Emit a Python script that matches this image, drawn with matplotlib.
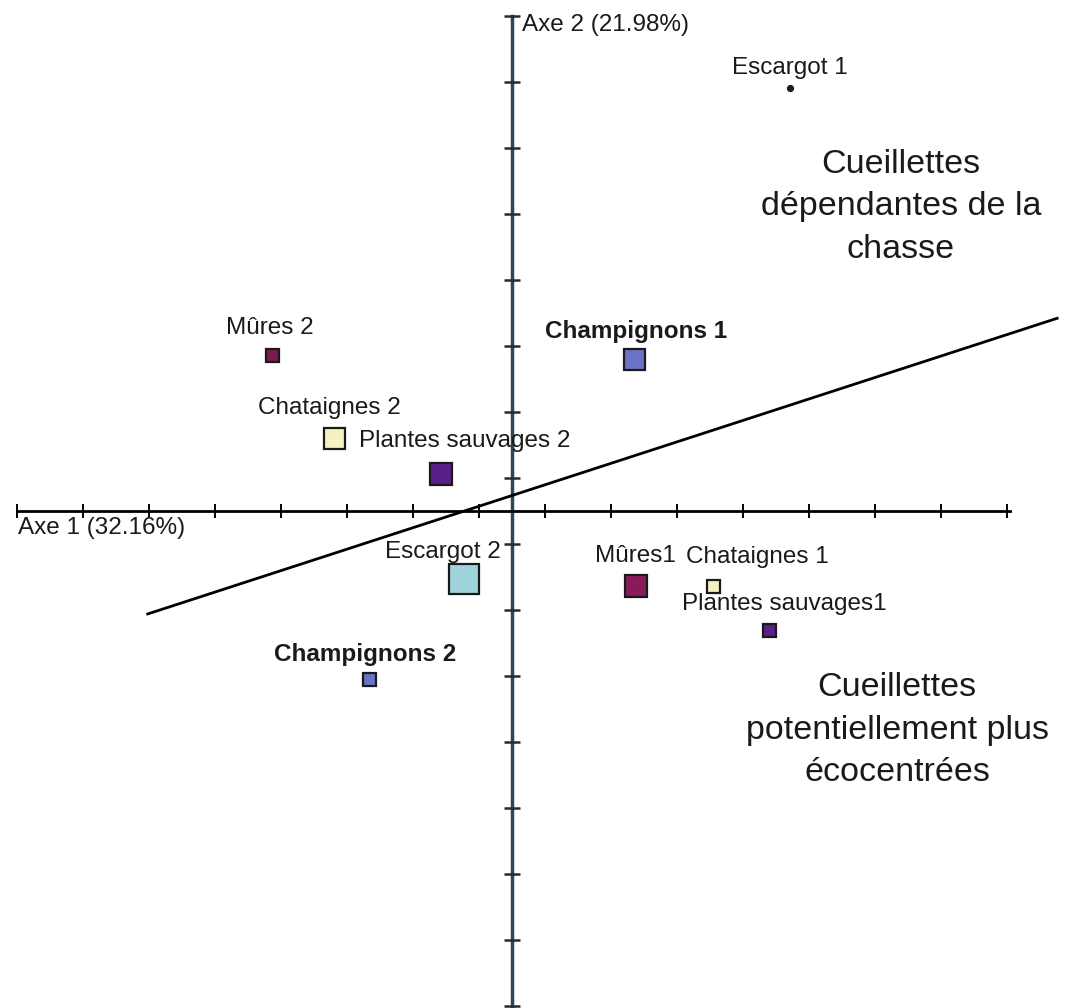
import numpy as np
import matplotlib
matplotlib.use('Agg')
import matplotlib.pyplot as plt

plt.rcParams['font.family'] = ['Liberation Sans', 'DejaVu Sans']

# coordinates on the two factorial axes (tick units)
labels = ['Escargot 1', 'Mûres 2', 'Champignons 1', 'Chataignes 2', 'Plantes sauvages 2',
          'Escargot 2', 'Mûres1', 'Chataignes 1', 'Plantes sauvages1', 'Champignons 2']
axe1 = [4.21, -3.64, 1.85, -2.70, -1.08, -0.73, 1.88, 3.05, 3.89, -2.17]
axe2 = [6.41, 2.36, 2.30, 1.11, 0.56, -1.03, -1.14, -1.14, -1.80, -2.55]
weight = [5, 13, 21, 21, 22, 30, 22, 13, 13, 13]   # marker side in px
bold = [False, False, True, False, False, False, False, False, False, True]

colors = ['#222222', '#7a1d4e', '#6a72c8', '#f6f1c2', '#5b1f8a',
          '#9fd4da', '#8a1a5a', '#f6f1c2', '#5b1f8a', '#6a72c8']

# label offsets in pixels (dx, dy) and horizontal alignment
offsets = [(0, 20), (-2, 27), (2, 28), (-4, 30), (-82, 33),
           (-21, 27), (-1, 30), (-27, 29), (16, 26), (-4, 25)]
aligns = ['center', 'center', 'center', 'center', 'left',
          'center', 'center', 'left', 'center', 'center']

# separating line
line_x = [-5.52, 8.26]
line_y = [-1.56, 2.92]

ticks = np.arange(-7.5, 7.6, 1.0)

fig = plt.figure(figsize=(10.71, 10.08), dpi=100)
ax = fig.add_axes([0, 0, 1, 1])
ax.set_xlim(-512 / 66, (1071 - 512) / 66)
ax.set_ylim((511 - 1008) / 66, 511 / 66)

for s in ['top', 'right']:
    ax.spines[s].set_visible(False)
ax.spines['left'].set_position(('data', 0))
ax.spines['bottom'].set_position(('data', 0))
ax.spines['left'].set_bounds(-7.5, 7.5)
ax.spines['bottom'].set_bounds(-7.5, 7.55)
ax.spines['bottom'].set_color('black')
ax.spines['bottom'].set_linewidth(2)
ax.spines['left'].set_color('#2e4856')
ax.spines['left'].set_linewidth(2.5)
ax.spines['left'].set_zorder(1)
ax.spines['bottom'].set_zorder(1)

ax.set_xticks(ticks)
ax.set_yticks(ticks)
ax.set_xticklabels([])
ax.set_yticklabels([])
ax.tick_params(axis='x', direction='inout', length=10, width=1.4, color='black')
ax.tick_params(axis='y', direction='inout', length=11, width=1.8, color='#1f2f38')

ax.plot(line_x, line_y, color='black', lw=2, zorder=2)

for i in range(len(labels)):
    ms = weight[i] * 0.72
    ax.plot(axe1[i], axe2[i], marker='s' if i > 0 else 'o', ms=ms,
            mfc=colors[i], mec='#1a1a1a', mew=1.6, ls='none', zorder=3)
    ax.annotate(labels[i], (axe1[i], axe2[i]), xytext=offsets[i],
                textcoords='offset pixels', ha=aligns[i], va='center',
                fontsize=17.5, color='#1a1a1a',
                fontweight='bold' if bold[i] else 'normal', zorder=4)

ax.text(18 / 66 - 512 / 66, (511 - 528) / 66, 'Axe 1 (32.16%)', ha='left', va='center',
        fontsize=17.5, color='#1a1a1a')
ax.text(10 / 66, (511 - 25) / 66, 'Axe 2 (21.98%)', ha='left', va='center',
        fontsize=17.5, color='#1a1a1a')

ax.text((901 - 512) / 66, (511 - 207) / 66, 'Cueillettes\ndépendantes de la\nchasse',
        ha='center', va='center', fontsize=24.5, linespacing=1.46, color='#1a1a1a')
ax.text((897 - 512) / 66, (511 - 730) / 66, 'Cueillettes\npotentiellement plus\nécocentrées',
        ha='center', va='center', fontsize=24.5, linespacing=1.46, color='#1a1a1a')

fig.savefig('out.png', dpi=100)
